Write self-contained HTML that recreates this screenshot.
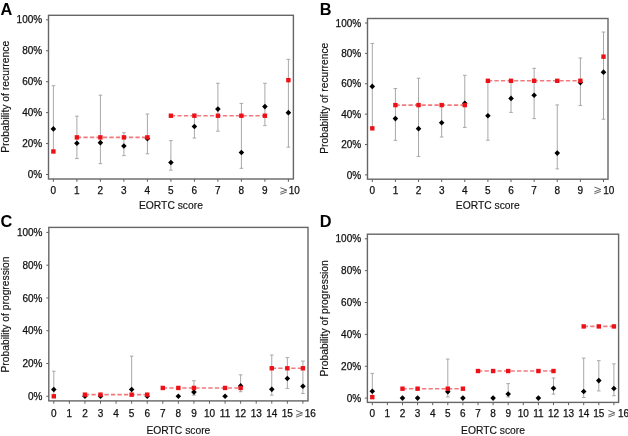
<!DOCTYPE html>
<html><head><meta charset="utf-8"><style>
html,body{margin:0;padding:0;background:#fff;}
body{width:628px;height:436px;overflow:hidden;}
svg{display:block;font-family:"Liberation Sans", sans-serif;will-change:transform;}
text{stroke:#111;stroke-width:0.25px;}
text.L{stroke:none;}
text.T{stroke-width:0.15px;}
</style></head><body>
<svg width="628" height="436" viewBox="0 0 628 436">
<rect width="628" height="436" fill="#fff"/>
<text x="0.6" y="14.7" class="L" font-size="16" font-weight="bold" fill="#000" transform="translate(0.6,14.7) scale(1.02,1.02) translate(-0.6,-14.7)">A</text>
<rect x="48.5" y="15.3" width="244.9" height="163.7" fill="none" stroke="#666666" stroke-width="1.4"/>
<line x1="46" y1="174.5" x2="48.5" y2="174.5" stroke="#606060" stroke-width="1"/>
<text x="42.2" y="178.1" font-size="10" text-anchor="end" fill="#111">0%</text>
<line x1="46" y1="143.57" x2="48.5" y2="143.57" stroke="#606060" stroke-width="1"/>
<text x="42.2" y="147.17" font-size="10" text-anchor="end" fill="#111">20%</text>
<line x1="46" y1="112.64" x2="48.5" y2="112.64" stroke="#606060" stroke-width="1"/>
<text x="42.2" y="116.24" font-size="10" text-anchor="end" fill="#111">40%</text>
<line x1="46" y1="81.71" x2="48.5" y2="81.71" stroke="#606060" stroke-width="1"/>
<text x="42.2" y="85.31" font-size="10" text-anchor="end" fill="#111">60%</text>
<line x1="46" y1="50.78" x2="48.5" y2="50.78" stroke="#606060" stroke-width="1"/>
<text x="42.2" y="54.38" font-size="10" text-anchor="end" fill="#111">80%</text>
<line x1="46" y1="19.85" x2="48.5" y2="19.85" stroke="#606060" stroke-width="1"/>
<text x="42.2" y="23.45" font-size="10" text-anchor="end" fill="#111">100%</text>
<line x1="53.4" y1="179" x2="53.4" y2="181.8" stroke="#606060" stroke-width="1"/>
<text x="53.4" y="194.2" font-size="10" text-anchor="middle" fill="#111">0</text>
<line x1="76.9" y1="179" x2="76.9" y2="181.8" stroke="#606060" stroke-width="1"/>
<text x="76.9" y="194.2" font-size="10" text-anchor="middle" fill="#111">1</text>
<line x1="100.4" y1="179" x2="100.4" y2="181.8" stroke="#606060" stroke-width="1"/>
<text x="100.4" y="194.2" font-size="10" text-anchor="middle" fill="#111">2</text>
<line x1="123.9" y1="179" x2="123.9" y2="181.8" stroke="#606060" stroke-width="1"/>
<text x="123.9" y="194.2" font-size="10" text-anchor="middle" fill="#111">3</text>
<line x1="147.4" y1="179" x2="147.4" y2="181.8" stroke="#606060" stroke-width="1"/>
<text x="147.4" y="194.2" font-size="10" text-anchor="middle" fill="#111">4</text>
<line x1="170.9" y1="179" x2="170.9" y2="181.8" stroke="#606060" stroke-width="1"/>
<text x="170.9" y="194.2" font-size="10" text-anchor="middle" fill="#111">5</text>
<line x1="194.4" y1="179" x2="194.4" y2="181.8" stroke="#606060" stroke-width="1"/>
<text x="194.4" y="194.2" font-size="10" text-anchor="middle" fill="#111">6</text>
<line x1="217.9" y1="179" x2="217.9" y2="181.8" stroke="#606060" stroke-width="1"/>
<text x="217.9" y="194.2" font-size="10" text-anchor="middle" fill="#111">7</text>
<line x1="241.4" y1="179" x2="241.4" y2="181.8" stroke="#606060" stroke-width="1"/>
<text x="241.4" y="194.2" font-size="10" text-anchor="middle" fill="#111">8</text>
<line x1="264.9" y1="179" x2="264.9" y2="181.8" stroke="#606060" stroke-width="1"/>
<text x="264.9" y="194.2" font-size="10" text-anchor="middle" fill="#111">9</text>
<line x1="288.4" y1="179" x2="288.4" y2="181.8" stroke="#606060" stroke-width="1"/>
<text x="288.8" y="194.2" font-size="10" fill="#111">10</text>
<path d="M280.3 187.7 L286.7 190.1 L280.3 192.4 M280.3 194.3 L286.7 192" fill="none" stroke="#555" stroke-width="0.9"/>
<text x="170.95" y="209.2" class="T" font-size="10.3" text-anchor="middle" fill="#111">EORTC score</text>
<text transform="translate(9.1,152.8) rotate(-90)" x="0" y="0" class="T" font-size="10.3" textLength="112" lengthAdjust="spacingAndGlyphs" fill="#111">Probability of recurrence</text>
<line x1="53.4" y1="151.3" x2="53.4" y2="85.73" stroke="#a8a8a8" stroke-width="1"/>
<line x1="51.6" y1="151.3" x2="55.2" y2="151.3" stroke="#a8a8a8" stroke-width="1"/>
<line x1="51.6" y1="85.73" x2="55.2" y2="85.73" stroke="#a8a8a8" stroke-width="1"/>
<line x1="76.9" y1="158.57" x2="76.9" y2="116.2" stroke="#a8a8a8" stroke-width="1"/>
<line x1="75.1" y1="158.57" x2="78.7" y2="158.57" stroke="#a8a8a8" stroke-width="1"/>
<line x1="75.1" y1="116.2" x2="78.7" y2="116.2" stroke="#a8a8a8" stroke-width="1"/>
<line x1="100.4" y1="163.67" x2="100.4" y2="95.16" stroke="#a8a8a8" stroke-width="1"/>
<line x1="98.6" y1="163.67" x2="102.2" y2="163.67" stroke="#a8a8a8" stroke-width="1"/>
<line x1="98.6" y1="95.16" x2="102.2" y2="95.16" stroke="#a8a8a8" stroke-width="1"/>
<line x1="123.9" y1="155.63" x2="123.9" y2="132.74" stroke="#a8a8a8" stroke-width="1"/>
<line x1="122.1" y1="155.63" x2="125.7" y2="155.63" stroke="#a8a8a8" stroke-width="1"/>
<line x1="122.1" y1="132.74" x2="125.7" y2="132.74" stroke="#a8a8a8" stroke-width="1"/>
<line x1="147.4" y1="153.78" x2="147.4" y2="114.03" stroke="#a8a8a8" stroke-width="1"/>
<line x1="145.6" y1="153.78" x2="149.2" y2="153.78" stroke="#a8a8a8" stroke-width="1"/>
<line x1="145.6" y1="114.03" x2="149.2" y2="114.03" stroke="#a8a8a8" stroke-width="1"/>
<line x1="170.9" y1="170.17" x2="170.9" y2="140.63" stroke="#a8a8a8" stroke-width="1"/>
<line x1="169.1" y1="170.17" x2="172.7" y2="170.17" stroke="#a8a8a8" stroke-width="1"/>
<line x1="169.1" y1="140.63" x2="172.7" y2="140.63" stroke="#a8a8a8" stroke-width="1"/>
<line x1="194.4" y1="138" x2="194.4" y2="114.19" stroke="#a8a8a8" stroke-width="1"/>
<line x1="192.6" y1="138" x2="196.2" y2="138" stroke="#a8a8a8" stroke-width="1"/>
<line x1="192.6" y1="114.19" x2="196.2" y2="114.19" stroke="#a8a8a8" stroke-width="1"/>
<line x1="217.9" y1="131.2" x2="217.9" y2="83.26" stroke="#a8a8a8" stroke-width="1"/>
<line x1="216.1" y1="131.2" x2="219.7" y2="131.2" stroke="#a8a8a8" stroke-width="1"/>
<line x1="216.1" y1="83.26" x2="219.7" y2="83.26" stroke="#a8a8a8" stroke-width="1"/>
<line x1="241.4" y1="168.31" x2="241.4" y2="103.36" stroke="#a8a8a8" stroke-width="1"/>
<line x1="239.6" y1="168.31" x2="243.2" y2="168.31" stroke="#a8a8a8" stroke-width="1"/>
<line x1="239.6" y1="103.36" x2="243.2" y2="103.36" stroke="#a8a8a8" stroke-width="1"/>
<line x1="264.9" y1="125.63" x2="264.9" y2="83.26" stroke="#a8a8a8" stroke-width="1"/>
<line x1="263.1" y1="125.63" x2="266.7" y2="125.63" stroke="#a8a8a8" stroke-width="1"/>
<line x1="263.1" y1="83.26" x2="266.7" y2="83.26" stroke="#a8a8a8" stroke-width="1"/>
<line x1="288.4" y1="147.13" x2="288.4" y2="59.29" stroke="#a8a8a8" stroke-width="1"/>
<line x1="286.6" y1="147.13" x2="290.2" y2="147.13" stroke="#a8a8a8" stroke-width="1"/>
<line x1="286.6" y1="59.29" x2="290.2" y2="59.29" stroke="#a8a8a8" stroke-width="1"/>
<line x1="76.9" y1="137.38" x2="147.4" y2="137.38" stroke="#f07a7e" stroke-width="1.6" stroke-dasharray="4.3 2.2"/>
<line x1="170.9" y1="115.73" x2="264.9" y2="115.73" stroke="#f07a7e" stroke-width="1.6" stroke-dasharray="4.3 2.2"/>
<path d="M53.4 126.08 L56.2 128.88 L53.4 131.68 L50.6 128.88Z" fill="#000"/>
<path d="M76.9 140.46 L79.7 143.26 L76.9 146.06 L74.1 143.26Z" fill="#000"/>
<path d="M100.4 139.84 L103.2 142.64 L100.4 145.44 L97.6 142.64Z" fill="#000"/>
<path d="M123.9 143.24 L126.7 146.04 L123.9 148.84 L121.1 146.04Z" fill="#000"/>
<path d="M147.4 135.82 L150.2 138.62 L147.4 141.42 L144.6 138.62Z" fill="#000"/>
<path d="M170.9 159.64 L173.7 162.44 L170.9 165.24 L168.1 162.44Z" fill="#000"/>
<path d="M194.4 123.76 L197.2 126.56 L194.4 129.36 L191.6 126.56Z" fill="#000"/>
<path d="M217.9 106.28 L220.7 109.08 L217.9 111.88 L215.1 109.08Z" fill="#000"/>
<path d="M241.4 149.74 L244.2 152.54 L241.4 155.34 L238.6 152.54Z" fill="#000"/>
<path d="M264.9 103.81 L267.7 106.61 L264.9 109.41 L262.1 106.61Z" fill="#000"/>
<path d="M288.4 109.84 L291.2 112.64 L288.4 115.44 L285.6 112.64Z" fill="#000"/>
<rect x="51.2" y="149.26" width="4.4" height="4.4" fill="#ec1117"/>
<rect x="74.7" y="135.18" width="4.4" height="4.4" fill="#ec1117"/>
<rect x="98.2" y="135.18" width="4.4" height="4.4" fill="#ec1117"/>
<rect x="121.7" y="135.18" width="4.4" height="4.4" fill="#ec1117"/>
<rect x="145.2" y="135.18" width="4.4" height="4.4" fill="#ec1117"/>
<rect x="168.7" y="113.53" width="4.4" height="4.4" fill="#ec1117"/>
<rect x="192.2" y="113.53" width="4.4" height="4.4" fill="#ec1117"/>
<rect x="215.7" y="113.53" width="4.4" height="4.4" fill="#ec1117"/>
<rect x="239.2" y="113.53" width="4.4" height="4.4" fill="#ec1117"/>
<rect x="262.7" y="113.53" width="4.4" height="4.4" fill="#ec1117"/>
<rect x="286.2" y="77.96" width="4.4" height="4.4" fill="#ec1117"/>
<text x="319.8" y="14.8" class="L" font-size="16" font-weight="bold" fill="#000" transform="translate(319.8,14.8) scale(1.02,1.02) translate(-319.8,-14.8)">B</text>
<rect x="367.5" y="18.5" width="240.5" height="160.7" fill="none" stroke="#666666" stroke-width="1.4"/>
<line x1="365" y1="174.9" x2="367.5" y2="174.9" stroke="#606060" stroke-width="1"/>
<text x="361.2" y="178.5" font-size="10" text-anchor="end" fill="#111">0%</text>
<line x1="365" y1="144.52" x2="367.5" y2="144.52" stroke="#606060" stroke-width="1"/>
<text x="361.2" y="148.12" font-size="10" text-anchor="end" fill="#111">20%</text>
<line x1="365" y1="114.14" x2="367.5" y2="114.14" stroke="#606060" stroke-width="1"/>
<text x="361.2" y="117.74" font-size="10" text-anchor="end" fill="#111">40%</text>
<line x1="365" y1="83.76" x2="367.5" y2="83.76" stroke="#606060" stroke-width="1"/>
<text x="361.2" y="87.36" font-size="10" text-anchor="end" fill="#111">60%</text>
<line x1="365" y1="53.38" x2="367.5" y2="53.38" stroke="#606060" stroke-width="1"/>
<text x="361.2" y="56.98" font-size="10" text-anchor="end" fill="#111">80%</text>
<line x1="365" y1="23" x2="367.5" y2="23" stroke="#606060" stroke-width="1"/>
<text x="361.2" y="26.6" font-size="10" text-anchor="end" fill="#111">100%</text>
<line x1="372.3" y1="179.2" x2="372.3" y2="182" stroke="#606060" stroke-width="1"/>
<text x="372.3" y="193.6" font-size="10" text-anchor="middle" fill="#111">0</text>
<line x1="395.42" y1="179.2" x2="395.42" y2="182" stroke="#606060" stroke-width="1"/>
<text x="395.42" y="193.6" font-size="10" text-anchor="middle" fill="#111">1</text>
<line x1="418.54" y1="179.2" x2="418.54" y2="182" stroke="#606060" stroke-width="1"/>
<text x="418.54" y="193.6" font-size="10" text-anchor="middle" fill="#111">2</text>
<line x1="441.66" y1="179.2" x2="441.66" y2="182" stroke="#606060" stroke-width="1"/>
<text x="441.66" y="193.6" font-size="10" text-anchor="middle" fill="#111">3</text>
<line x1="464.78" y1="179.2" x2="464.78" y2="182" stroke="#606060" stroke-width="1"/>
<text x="464.78" y="193.6" font-size="10" text-anchor="middle" fill="#111">4</text>
<line x1="487.9" y1="179.2" x2="487.9" y2="182" stroke="#606060" stroke-width="1"/>
<text x="487.9" y="193.6" font-size="10" text-anchor="middle" fill="#111">5</text>
<line x1="511.02" y1="179.2" x2="511.02" y2="182" stroke="#606060" stroke-width="1"/>
<text x="511.02" y="193.6" font-size="10" text-anchor="middle" fill="#111">6</text>
<line x1="534.14" y1="179.2" x2="534.14" y2="182" stroke="#606060" stroke-width="1"/>
<text x="534.14" y="193.6" font-size="10" text-anchor="middle" fill="#111">7</text>
<line x1="557.26" y1="179.2" x2="557.26" y2="182" stroke="#606060" stroke-width="1"/>
<text x="557.26" y="193.6" font-size="10" text-anchor="middle" fill="#111">8</text>
<line x1="580.38" y1="179.2" x2="580.38" y2="182" stroke="#606060" stroke-width="1"/>
<text x="580.38" y="193.6" font-size="10" text-anchor="middle" fill="#111">9</text>
<line x1="603.5" y1="179.2" x2="603.5" y2="182" stroke="#606060" stroke-width="1"/>
<text x="603.2" y="193.6" font-size="10" fill="#111">10</text>
<path d="M594.4 187.1 L600.8 189.5 L594.4 191.8 M594.4 193.7 L600.8 191.4" fill="none" stroke="#555" stroke-width="0.9"/>
<text x="487.75" y="209" class="T" font-size="10.3" text-anchor="middle" fill="#111">EORTC score</text>
<text transform="translate(328.1,153.7) rotate(-90)" x="0" y="0" class="T" font-size="10.3" textLength="110.9" lengthAdjust="spacingAndGlyphs" fill="#111">Probability of recurrence</text>
<line x1="372.3" y1="128.34" x2="372.3" y2="43.43" stroke="#a8a8a8" stroke-width="1"/>
<line x1="370.5" y1="128.34" x2="374.1" y2="128.34" stroke="#a8a8a8" stroke-width="1"/>
<line x1="370.5" y1="43.43" x2="374.1" y2="43.43" stroke="#a8a8a8" stroke-width="1"/>
<line x1="395.42" y1="140.34" x2="395.42" y2="88.54" stroke="#a8a8a8" stroke-width="1"/>
<line x1="393.62" y1="140.34" x2="397.22" y2="140.34" stroke="#a8a8a8" stroke-width="1"/>
<line x1="393.62" y1="88.54" x2="397.22" y2="88.54" stroke="#a8a8a8" stroke-width="1"/>
<line x1="418.54" y1="156.44" x2="418.54" y2="78.22" stroke="#a8a8a8" stroke-width="1"/>
<line x1="416.74" y1="156.44" x2="420.34" y2="156.44" stroke="#a8a8a8" stroke-width="1"/>
<line x1="416.74" y1="78.22" x2="420.34" y2="78.22" stroke="#a8a8a8" stroke-width="1"/>
<line x1="441.66" y1="137" x2="441.66" y2="104.34" stroke="#a8a8a8" stroke-width="1"/>
<line x1="439.86" y1="137" x2="443.46" y2="137" stroke="#a8a8a8" stroke-width="1"/>
<line x1="439.86" y1="104.34" x2="443.46" y2="104.34" stroke="#a8a8a8" stroke-width="1"/>
<line x1="464.78" y1="127.43" x2="464.78" y2="75.33" stroke="#a8a8a8" stroke-width="1"/>
<line x1="462.98" y1="127.43" x2="466.58" y2="127.43" stroke="#a8a8a8" stroke-width="1"/>
<line x1="462.98" y1="75.33" x2="466.58" y2="75.33" stroke="#a8a8a8" stroke-width="1"/>
<line x1="487.9" y1="140.19" x2="487.9" y2="80.8" stroke="#a8a8a8" stroke-width="1"/>
<line x1="486.1" y1="140.19" x2="489.7" y2="140.19" stroke="#a8a8a8" stroke-width="1"/>
<line x1="486.1" y1="80.8" x2="489.7" y2="80.8" stroke="#a8a8a8" stroke-width="1"/>
<line x1="511.02" y1="112.39" x2="511.02" y2="80.8" stroke="#a8a8a8" stroke-width="1"/>
<line x1="509.22" y1="112.39" x2="512.82" y2="112.39" stroke="#a8a8a8" stroke-width="1"/>
<line x1="509.22" y1="80.8" x2="512.82" y2="80.8" stroke="#a8a8a8" stroke-width="1"/>
<line x1="534.14" y1="118.62" x2="534.14" y2="68.34" stroke="#a8a8a8" stroke-width="1"/>
<line x1="532.34" y1="118.62" x2="535.94" y2="118.62" stroke="#a8a8a8" stroke-width="1"/>
<line x1="532.34" y1="68.34" x2="535.94" y2="68.34" stroke="#a8a8a8" stroke-width="1"/>
<line x1="557.26" y1="168.9" x2="557.26" y2="104.95" stroke="#a8a8a8" stroke-width="1"/>
<line x1="555.46" y1="168.9" x2="559.06" y2="168.9" stroke="#a8a8a8" stroke-width="1"/>
<line x1="555.46" y1="104.95" x2="559.06" y2="104.95" stroke="#a8a8a8" stroke-width="1"/>
<line x1="580.38" y1="105.41" x2="580.38" y2="58.01" stroke="#a8a8a8" stroke-width="1"/>
<line x1="578.58" y1="105.41" x2="582.18" y2="105.41" stroke="#a8a8a8" stroke-width="1"/>
<line x1="578.58" y1="58.01" x2="582.18" y2="58.01" stroke="#a8a8a8" stroke-width="1"/>
<line x1="603.5" y1="119.23" x2="603.5" y2="32.04" stroke="#a8a8a8" stroke-width="1"/>
<line x1="601.7" y1="119.23" x2="605.3" y2="119.23" stroke="#a8a8a8" stroke-width="1"/>
<line x1="601.7" y1="32.04" x2="605.3" y2="32.04" stroke="#a8a8a8" stroke-width="1"/>
<line x1="395.42" y1="105.1" x2="464.78" y2="105.1" stroke="#f07a7e" stroke-width="1.6" stroke-dasharray="4.3 2.2"/>
<line x1="487.9" y1="80.8" x2="580.38" y2="80.8" stroke="#f07a7e" stroke-width="1.6" stroke-dasharray="4.3 2.2"/>
<path d="M372.3 83.62 L375.1 86.42 L372.3 89.22 L369.5 86.42Z" fill="#000"/>
<path d="M395.42 115.82 L398.22 118.62 L395.42 121.42 L392.62 118.62Z" fill="#000"/>
<path d="M418.54 125.85 L421.34 128.65 L418.54 131.45 L415.74 128.65Z" fill="#000"/>
<path d="M441.66 119.92 L444.46 122.72 L441.66 125.52 L438.86 122.72Z" fill="#000"/>
<path d="M464.78 100.48 L467.58 103.28 L464.78 106.08 L461.98 103.28Z" fill="#000"/>
<path d="M487.9 112.93 L490.7 115.73 L487.9 118.53 L485.1 115.73Z" fill="#000"/>
<path d="M511.02 95.62 L513.82 98.42 L511.02 101.22 L508.22 98.42Z" fill="#000"/>
<path d="M534.14 92.43 L536.94 95.23 L534.14 98.03 L531.34 95.23Z" fill="#000"/>
<path d="M557.26 150.3 L560.06 153.1 L557.26 155.9 L554.46 153.1Z" fill="#000"/>
<path d="M580.38 79.82 L583.18 82.62 L580.38 85.42 L577.58 82.62Z" fill="#000"/>
<path d="M603.5 69.34 L606.3 72.14 L603.5 74.94 L600.7 72.14Z" fill="#000"/>
<rect x="370.1" y="126.14" width="4.4" height="4.4" fill="#ec1117"/>
<rect x="393.22" y="102.9" width="4.4" height="4.4" fill="#ec1117"/>
<rect x="416.34" y="102.9" width="4.4" height="4.4" fill="#ec1117"/>
<rect x="439.46" y="102.9" width="4.4" height="4.4" fill="#ec1117"/>
<rect x="462.58" y="102.9" width="4.4" height="4.4" fill="#ec1117"/>
<rect x="485.7" y="78.6" width="4.4" height="4.4" fill="#ec1117"/>
<rect x="508.82" y="78.6" width="4.4" height="4.4" fill="#ec1117"/>
<rect x="531.94" y="78.6" width="4.4" height="4.4" fill="#ec1117"/>
<rect x="555.06" y="78.6" width="4.4" height="4.4" fill="#ec1117"/>
<rect x="578.18" y="78.6" width="4.4" height="4.4" fill="#ec1117"/>
<rect x="601.3" y="54.45" width="4.4" height="4.4" fill="#ec1117"/>
<text x="0.5" y="226.7" class="L" font-size="16" font-weight="bold" fill="#000" transform="translate(0.5,226.7) scale(1.02,1.02) translate(-0.5,-226.7)">C</text>
<rect x="48.8" y="227.4" width="259.2" height="173.5" fill="none" stroke="#666666" stroke-width="1.4"/>
<line x1="46.3" y1="396.3" x2="48.8" y2="396.3" stroke="#606060" stroke-width="1"/>
<text x="42.5" y="399.9" font-size="10" text-anchor="end" fill="#111">0%</text>
<line x1="46.3" y1="363.52" x2="48.8" y2="363.52" stroke="#606060" stroke-width="1"/>
<text x="42.5" y="367.12" font-size="10" text-anchor="end" fill="#111">20%</text>
<line x1="46.3" y1="330.74" x2="48.8" y2="330.74" stroke="#606060" stroke-width="1"/>
<text x="42.5" y="334.34" font-size="10" text-anchor="end" fill="#111">40%</text>
<line x1="46.3" y1="297.96" x2="48.8" y2="297.96" stroke="#606060" stroke-width="1"/>
<text x="42.5" y="301.56" font-size="10" text-anchor="end" fill="#111">60%</text>
<line x1="46.3" y1="265.18" x2="48.8" y2="265.18" stroke="#606060" stroke-width="1"/>
<text x="42.5" y="268.78" font-size="10" text-anchor="end" fill="#111">80%</text>
<line x1="46.3" y1="232.4" x2="48.8" y2="232.4" stroke="#606060" stroke-width="1"/>
<text x="42.5" y="236" font-size="10" text-anchor="end" fill="#111">100%</text>
<line x1="53.8" y1="400.9" x2="53.8" y2="403.7" stroke="#606060" stroke-width="1"/>
<text x="53.8" y="417" font-size="10" text-anchor="middle" fill="#111">0</text>
<line x1="69.37" y1="400.9" x2="69.37" y2="403.7" stroke="#606060" stroke-width="1"/>
<text x="69.37" y="417" font-size="10" text-anchor="middle" fill="#111">1</text>
<line x1="84.94" y1="400.9" x2="84.94" y2="403.7" stroke="#606060" stroke-width="1"/>
<text x="84.94" y="417" font-size="10" text-anchor="middle" fill="#111">2</text>
<line x1="100.51" y1="400.9" x2="100.51" y2="403.7" stroke="#606060" stroke-width="1"/>
<text x="100.51" y="417" font-size="10" text-anchor="middle" fill="#111">3</text>
<line x1="116.08" y1="400.9" x2="116.08" y2="403.7" stroke="#606060" stroke-width="1"/>
<text x="116.08" y="417" font-size="10" text-anchor="middle" fill="#111">4</text>
<line x1="131.65" y1="400.9" x2="131.65" y2="403.7" stroke="#606060" stroke-width="1"/>
<text x="131.65" y="417" font-size="10" text-anchor="middle" fill="#111">5</text>
<line x1="147.22" y1="400.9" x2="147.22" y2="403.7" stroke="#606060" stroke-width="1"/>
<text x="147.22" y="417" font-size="10" text-anchor="middle" fill="#111">6</text>
<line x1="162.79" y1="400.9" x2="162.79" y2="403.7" stroke="#606060" stroke-width="1"/>
<text x="162.79" y="417" font-size="10" text-anchor="middle" fill="#111">7</text>
<line x1="178.36" y1="400.9" x2="178.36" y2="403.7" stroke="#606060" stroke-width="1"/>
<text x="178.36" y="417" font-size="10" text-anchor="middle" fill="#111">8</text>
<line x1="193.93" y1="400.9" x2="193.93" y2="403.7" stroke="#606060" stroke-width="1"/>
<text x="193.93" y="417" font-size="10" text-anchor="middle" fill="#111">9</text>
<line x1="209.5" y1="400.9" x2="209.5" y2="403.7" stroke="#606060" stroke-width="1"/>
<text x="209.5" y="417" font-size="10" text-anchor="middle" fill="#111">10</text>
<line x1="225.07" y1="400.9" x2="225.07" y2="403.7" stroke="#606060" stroke-width="1"/>
<text x="225.07" y="417" font-size="10" text-anchor="middle" fill="#111">11</text>
<line x1="240.64" y1="400.9" x2="240.64" y2="403.7" stroke="#606060" stroke-width="1"/>
<text x="240.64" y="417" font-size="10" text-anchor="middle" fill="#111">12</text>
<line x1="256.21" y1="400.9" x2="256.21" y2="403.7" stroke="#606060" stroke-width="1"/>
<text x="256.21" y="417" font-size="10" text-anchor="middle" fill="#111">13</text>
<line x1="271.78" y1="400.9" x2="271.78" y2="403.7" stroke="#606060" stroke-width="1"/>
<text x="271.78" y="417" font-size="10" text-anchor="middle" fill="#111">14</text>
<line x1="287.35" y1="400.9" x2="287.35" y2="403.7" stroke="#606060" stroke-width="1"/>
<text x="287.35" y="417" font-size="10" text-anchor="middle" fill="#111">15</text>
<line x1="302.92" y1="400.9" x2="302.92" y2="403.7" stroke="#606060" stroke-width="1"/>
<text x="304.7" y="417" font-size="10" fill="#111">16</text>
<path d="M296.1 410.5 L302.5 412.9 L296.1 415.2 M296.1 417.1 L302.5 414.8" fill="none" stroke="#555" stroke-width="0.9"/>
<text x="178.4" y="433.7" class="T" font-size="10.3" text-anchor="middle" fill="#111">EORTC score</text>
<text transform="translate(9,372.5) rotate(-90)" x="0" y="0" class="T" font-size="10.3" textLength="116" lengthAdjust="spacingAndGlyphs" fill="#111">Probability of progression</text>
<line x1="53.8" y1="396.3" x2="53.8" y2="371.22" stroke="#a8a8a8" stroke-width="1"/>
<line x1="52" y1="396.3" x2="55.6" y2="396.3" stroke="#a8a8a8" stroke-width="1"/>
<line x1="52" y1="371.22" x2="55.6" y2="371.22" stroke="#a8a8a8" stroke-width="1"/>
<line x1="131.65" y1="395.48" x2="131.65" y2="356.14" stroke="#a8a8a8" stroke-width="1"/>
<line x1="129.85" y1="395.48" x2="133.45" y2="395.48" stroke="#a8a8a8" stroke-width="1"/>
<line x1="129.85" y1="356.14" x2="133.45" y2="356.14" stroke="#a8a8a8" stroke-width="1"/>
<line x1="193.93" y1="395.15" x2="193.93" y2="380.73" stroke="#a8a8a8" stroke-width="1"/>
<line x1="192.13" y1="395.15" x2="195.73" y2="395.15" stroke="#a8a8a8" stroke-width="1"/>
<line x1="192.13" y1="380.73" x2="195.73" y2="380.73" stroke="#a8a8a8" stroke-width="1"/>
<line x1="240.64" y1="391.71" x2="240.64" y2="374.83" stroke="#a8a8a8" stroke-width="1"/>
<line x1="238.84" y1="391.71" x2="242.44" y2="391.71" stroke="#a8a8a8" stroke-width="1"/>
<line x1="238.84" y1="374.83" x2="242.44" y2="374.83" stroke="#a8a8a8" stroke-width="1"/>
<line x1="271.78" y1="395.15" x2="271.78" y2="355" stroke="#a8a8a8" stroke-width="1"/>
<line x1="269.98" y1="395.15" x2="273.58" y2="395.15" stroke="#a8a8a8" stroke-width="1"/>
<line x1="269.98" y1="355" x2="273.58" y2="355" stroke="#a8a8a8" stroke-width="1"/>
<line x1="287.35" y1="388.43" x2="287.35" y2="357.62" stroke="#a8a8a8" stroke-width="1"/>
<line x1="285.55" y1="388.43" x2="289.15" y2="388.43" stroke="#a8a8a8" stroke-width="1"/>
<line x1="285.55" y1="357.62" x2="289.15" y2="357.62" stroke="#a8a8a8" stroke-width="1"/>
<line x1="302.92" y1="393.51" x2="302.92" y2="361.06" stroke="#a8a8a8" stroke-width="1"/>
<line x1="301.12" y1="393.51" x2="304.72" y2="393.51" stroke="#a8a8a8" stroke-width="1"/>
<line x1="301.12" y1="361.06" x2="304.72" y2="361.06" stroke="#a8a8a8" stroke-width="1"/>
<line x1="84.94" y1="394.66" x2="147.22" y2="394.66" stroke="#f07a7e" stroke-width="1.6" stroke-dasharray="4.3 2.2"/>
<line x1="162.79" y1="387.94" x2="240.64" y2="387.94" stroke="#f07a7e" stroke-width="1.6" stroke-dasharray="4.3 2.2"/>
<line x1="271.78" y1="368.27" x2="302.92" y2="368.27" stroke="#f07a7e" stroke-width="1.6" stroke-dasharray="4.3 2.2"/>
<path d="M53.8 386.7 L56.6 389.5 L53.8 392.3 L51 389.5Z" fill="#000"/>
<path d="M84.94 393.5 L87.74 396.3 L84.94 399.1 L82.14 396.3Z" fill="#000"/>
<path d="M100.51 393.5 L103.31 396.3 L100.51 399.1 L97.71 396.3Z" fill="#000"/>
<path d="M131.65 386.7 L134.45 389.5 L131.65 392.3 L128.85 389.5Z" fill="#000"/>
<path d="M147.22 393.5 L150.02 396.3 L147.22 399.1 L144.42 396.3Z" fill="#000"/>
<path d="M178.36 393.5 L181.16 396.3 L178.36 399.1 L175.56 396.3Z" fill="#000"/>
<path d="M193.93 389.32 L196.73 392.12 L193.93 394.92 L191.13 392.12Z" fill="#000"/>
<path d="M225.07 393.5 L227.87 396.3 L225.07 399.1 L222.27 396.3Z" fill="#000"/>
<path d="M240.64 383.09 L243.44 385.89 L240.64 388.69 L237.84 385.89Z" fill="#000"/>
<path d="M271.78 386.53 L274.58 389.33 L271.78 392.13 L268.98 389.33Z" fill="#000"/>
<path d="M287.35 375.72 L290.15 378.52 L287.35 381.32 L284.55 378.52Z" fill="#000"/>
<path d="M302.92 383.42 L305.72 386.22 L302.92 389.02 L300.12 386.22Z" fill="#000"/>
<rect x="51.6" y="394.1" width="4.4" height="4.4" fill="#ec1117"/>
<rect x="82.74" y="392.46" width="4.4" height="4.4" fill="#ec1117"/>
<rect x="98.31" y="392.46" width="4.4" height="4.4" fill="#ec1117"/>
<rect x="129.45" y="392.46" width="4.4" height="4.4" fill="#ec1117"/>
<rect x="145.02" y="392.46" width="4.4" height="4.4" fill="#ec1117"/>
<rect x="160.59" y="385.74" width="4.4" height="4.4" fill="#ec1117"/>
<rect x="176.16" y="385.74" width="4.4" height="4.4" fill="#ec1117"/>
<rect x="191.73" y="385.74" width="4.4" height="4.4" fill="#ec1117"/>
<rect x="222.87" y="385.74" width="4.4" height="4.4" fill="#ec1117"/>
<rect x="238.44" y="385.74" width="4.4" height="4.4" fill="#ec1117"/>
<rect x="269.58" y="366.07" width="4.4" height="4.4" fill="#ec1117"/>
<rect x="285.15" y="366.07" width="4.4" height="4.4" fill="#ec1117"/>
<rect x="300.72" y="366.07" width="4.4" height="4.4" fill="#ec1117"/>
<text x="319.7" y="226.6" class="L" font-size="16" font-weight="bold" fill="#000" transform="translate(319.7,226.6) scale(1.02,1.02) translate(-319.7,-226.6)">D</text>
<rect x="367.4" y="234.2" width="251.2" height="168.2" fill="none" stroke="#666666" stroke-width="1.4"/>
<line x1="364.9" y1="398.1" x2="367.4" y2="398.1" stroke="#606060" stroke-width="1"/>
<text x="361.1" y="401.7" font-size="10" text-anchor="end" fill="#111">0%</text>
<line x1="364.9" y1="366.24" x2="367.4" y2="366.24" stroke="#606060" stroke-width="1"/>
<text x="361.1" y="369.84" font-size="10" text-anchor="end" fill="#111">20%</text>
<line x1="364.9" y1="334.38" x2="367.4" y2="334.38" stroke="#606060" stroke-width="1"/>
<text x="361.1" y="337.98" font-size="10" text-anchor="end" fill="#111">40%</text>
<line x1="364.9" y1="302.52" x2="367.4" y2="302.52" stroke="#606060" stroke-width="1"/>
<text x="361.1" y="306.12" font-size="10" text-anchor="end" fill="#111">60%</text>
<line x1="364.9" y1="270.66" x2="367.4" y2="270.66" stroke="#606060" stroke-width="1"/>
<text x="361.1" y="274.26" font-size="10" text-anchor="end" fill="#111">80%</text>
<line x1="364.9" y1="238.8" x2="367.4" y2="238.8" stroke="#606060" stroke-width="1"/>
<text x="361.1" y="242.4" font-size="10" text-anchor="end" fill="#111">100%</text>
<line x1="372.3" y1="402.4" x2="372.3" y2="405.2" stroke="#606060" stroke-width="1"/>
<text x="372.3" y="416.9" font-size="10" text-anchor="middle" fill="#111">0</text>
<line x1="387.4" y1="402.4" x2="387.4" y2="405.2" stroke="#606060" stroke-width="1"/>
<text x="387.4" y="416.9" font-size="10" text-anchor="middle" fill="#111">1</text>
<line x1="402.5" y1="402.4" x2="402.5" y2="405.2" stroke="#606060" stroke-width="1"/>
<text x="402.5" y="416.9" font-size="10" text-anchor="middle" fill="#111">2</text>
<line x1="417.6" y1="402.4" x2="417.6" y2="405.2" stroke="#606060" stroke-width="1"/>
<text x="417.6" y="416.9" font-size="10" text-anchor="middle" fill="#111">3</text>
<line x1="432.7" y1="402.4" x2="432.7" y2="405.2" stroke="#606060" stroke-width="1"/>
<text x="432.7" y="416.9" font-size="10" text-anchor="middle" fill="#111">4</text>
<line x1="447.8" y1="402.4" x2="447.8" y2="405.2" stroke="#606060" stroke-width="1"/>
<text x="447.8" y="416.9" font-size="10" text-anchor="middle" fill="#111">5</text>
<line x1="462.9" y1="402.4" x2="462.9" y2="405.2" stroke="#606060" stroke-width="1"/>
<text x="462.9" y="416.9" font-size="10" text-anchor="middle" fill="#111">6</text>
<line x1="478" y1="402.4" x2="478" y2="405.2" stroke="#606060" stroke-width="1"/>
<text x="478" y="416.9" font-size="10" text-anchor="middle" fill="#111">7</text>
<line x1="493.1" y1="402.4" x2="493.1" y2="405.2" stroke="#606060" stroke-width="1"/>
<text x="493.1" y="416.9" font-size="10" text-anchor="middle" fill="#111">8</text>
<line x1="508.2" y1="402.4" x2="508.2" y2="405.2" stroke="#606060" stroke-width="1"/>
<text x="508.2" y="416.9" font-size="10" text-anchor="middle" fill="#111">9</text>
<line x1="523.3" y1="402.4" x2="523.3" y2="405.2" stroke="#606060" stroke-width="1"/>
<text x="523.3" y="416.9" font-size="10" text-anchor="middle" fill="#111">10</text>
<line x1="538.4" y1="402.4" x2="538.4" y2="405.2" stroke="#606060" stroke-width="1"/>
<text x="538.4" y="416.9" font-size="10" text-anchor="middle" fill="#111">11</text>
<line x1="553.5" y1="402.4" x2="553.5" y2="405.2" stroke="#606060" stroke-width="1"/>
<text x="553.5" y="416.9" font-size="10" text-anchor="middle" fill="#111">12</text>
<line x1="568.6" y1="402.4" x2="568.6" y2="405.2" stroke="#606060" stroke-width="1"/>
<text x="568.6" y="416.9" font-size="10" text-anchor="middle" fill="#111">13</text>
<line x1="583.7" y1="402.4" x2="583.7" y2="405.2" stroke="#606060" stroke-width="1"/>
<text x="583.7" y="416.9" font-size="10" text-anchor="middle" fill="#111">14</text>
<line x1="598.8" y1="402.4" x2="598.8" y2="405.2" stroke="#606060" stroke-width="1"/>
<text x="598.8" y="416.9" font-size="10" text-anchor="middle" fill="#111">15</text>
<line x1="613.9" y1="402.4" x2="613.9" y2="405.2" stroke="#606060" stroke-width="1"/>
<text x="617.9" y="416.9" font-size="10" fill="#111">16</text>
<path d="M608.4 410.4 L614.8 412.8 L608.4 415.1 M608.4 417 L614.8 414.7" fill="none" stroke="#555" stroke-width="0.9"/>
<text x="493" y="433.6" class="T" font-size="10.3" text-anchor="middle" fill="#111">EORTC score</text>
<text transform="translate(328,376.6) rotate(-90)" x="0" y="0" class="T" font-size="10.3" textLength="116.4" lengthAdjust="spacingAndGlyphs" fill="#111">Probability of progression</text>
<line x1="372.3" y1="398.1" x2="372.3" y2="373.41" stroke="#a8a8a8" stroke-width="1"/>
<line x1="370.5" y1="398.1" x2="374.1" y2="398.1" stroke="#a8a8a8" stroke-width="1"/>
<line x1="370.5" y1="373.41" x2="374.1" y2="373.41" stroke="#a8a8a8" stroke-width="1"/>
<line x1="447.8" y1="396.98" x2="447.8" y2="359.07" stroke="#a8a8a8" stroke-width="1"/>
<line x1="446" y1="396.98" x2="449.6" y2="396.98" stroke="#a8a8a8" stroke-width="1"/>
<line x1="446" y1="359.07" x2="449.6" y2="359.07" stroke="#a8a8a8" stroke-width="1"/>
<line x1="508.2" y1="396.98" x2="508.2" y2="383.6" stroke="#a8a8a8" stroke-width="1"/>
<line x1="506.4" y1="396.98" x2="510" y2="396.98" stroke="#a8a8a8" stroke-width="1"/>
<line x1="506.4" y1="383.6" x2="510" y2="383.6" stroke="#a8a8a8" stroke-width="1"/>
<line x1="553.5" y1="394.12" x2="553.5" y2="378.03" stroke="#a8a8a8" stroke-width="1"/>
<line x1="551.7" y1="394.12" x2="555.3" y2="394.12" stroke="#a8a8a8" stroke-width="1"/>
<line x1="551.7" y1="378.03" x2="555.3" y2="378.03" stroke="#a8a8a8" stroke-width="1"/>
<line x1="583.7" y1="397.46" x2="583.7" y2="358.12" stroke="#a8a8a8" stroke-width="1"/>
<line x1="581.9" y1="397.46" x2="585.5" y2="397.46" stroke="#a8a8a8" stroke-width="1"/>
<line x1="581.9" y1="358.12" x2="585.5" y2="358.12" stroke="#a8a8a8" stroke-width="1"/>
<line x1="598.8" y1="390.93" x2="598.8" y2="360.66" stroke="#a8a8a8" stroke-width="1"/>
<line x1="597" y1="390.93" x2="600.6" y2="390.93" stroke="#a8a8a8" stroke-width="1"/>
<line x1="597" y1="360.66" x2="600.6" y2="360.66" stroke="#a8a8a8" stroke-width="1"/>
<line x1="613.9" y1="395.71" x2="613.9" y2="363.85" stroke="#a8a8a8" stroke-width="1"/>
<line x1="612.1" y1="395.71" x2="615.7" y2="395.71" stroke="#a8a8a8" stroke-width="1"/>
<line x1="612.1" y1="363.85" x2="615.7" y2="363.85" stroke="#a8a8a8" stroke-width="1"/>
<line x1="402.5" y1="388.7" x2="462.9" y2="388.7" stroke="#f07a7e" stroke-width="1.6" stroke-dasharray="4.3 2.2"/>
<line x1="478" y1="371.02" x2="553.5" y2="371.02" stroke="#f07a7e" stroke-width="1.6" stroke-dasharray="4.3 2.2"/>
<line x1="583.7" y1="326.42" x2="613.9" y2="326.42" stroke="#f07a7e" stroke-width="1.6" stroke-dasharray="4.3 2.2"/>
<path d="M372.3 388.45 L375.1 391.25 L372.3 394.05 L369.5 391.25Z" fill="#000"/>
<path d="M402.5 395.3 L405.3 398.1 L402.5 400.9 L399.7 398.1Z" fill="#000"/>
<path d="M417.6 395.3 L420.4 398.1 L417.6 400.9 L414.8 398.1Z" fill="#000"/>
<path d="M447.8 388.93 L450.6 391.73 L447.8 394.53 L445 391.73Z" fill="#000"/>
<path d="M462.9 395.3 L465.7 398.1 L462.9 400.9 L460.1 398.1Z" fill="#000"/>
<path d="M493.1 395.3 L495.9 398.1 L493.1 400.9 L490.3 398.1Z" fill="#000"/>
<path d="M508.2 391.16 L511 393.96 L508.2 396.76 L505.4 393.96Z" fill="#000"/>
<path d="M538.4 395.3 L541.2 398.1 L538.4 400.9 L535.6 398.1Z" fill="#000"/>
<path d="M553.5 385.42 L556.3 388.22 L553.5 391.02 L550.7 388.22Z" fill="#000"/>
<path d="M583.7 388.77 L586.5 391.57 L583.7 394.37 L580.9 391.57Z" fill="#000"/>
<path d="M598.8 377.78 L601.6 380.58 L598.8 383.38 L596 380.58Z" fill="#000"/>
<path d="M613.9 385.74 L616.7 388.54 L613.9 391.34 L611.1 388.54Z" fill="#000"/>
<rect x="370.1" y="394.94" width="4.4" height="4.4" fill="#ec1117"/>
<rect x="400.3" y="386.5" width="4.4" height="4.4" fill="#ec1117"/>
<rect x="415.4" y="386.5" width="4.4" height="4.4" fill="#ec1117"/>
<rect x="445.6" y="386.5" width="4.4" height="4.4" fill="#ec1117"/>
<rect x="460.7" y="386.5" width="4.4" height="4.4" fill="#ec1117"/>
<rect x="475.8" y="368.82" width="4.4" height="4.4" fill="#ec1117"/>
<rect x="490.9" y="368.82" width="4.4" height="4.4" fill="#ec1117"/>
<rect x="506" y="368.82" width="4.4" height="4.4" fill="#ec1117"/>
<rect x="536.2" y="368.82" width="4.4" height="4.4" fill="#ec1117"/>
<rect x="551.3" y="368.82" width="4.4" height="4.4" fill="#ec1117"/>
<rect x="581.5" y="324.22" width="4.4" height="4.4" fill="#ec1117"/>
<rect x="596.6" y="324.22" width="4.4" height="4.4" fill="#ec1117"/>
<rect x="611.7" y="324.22" width="4.4" height="4.4" fill="#ec1117"/>
</svg>
</body></html>
